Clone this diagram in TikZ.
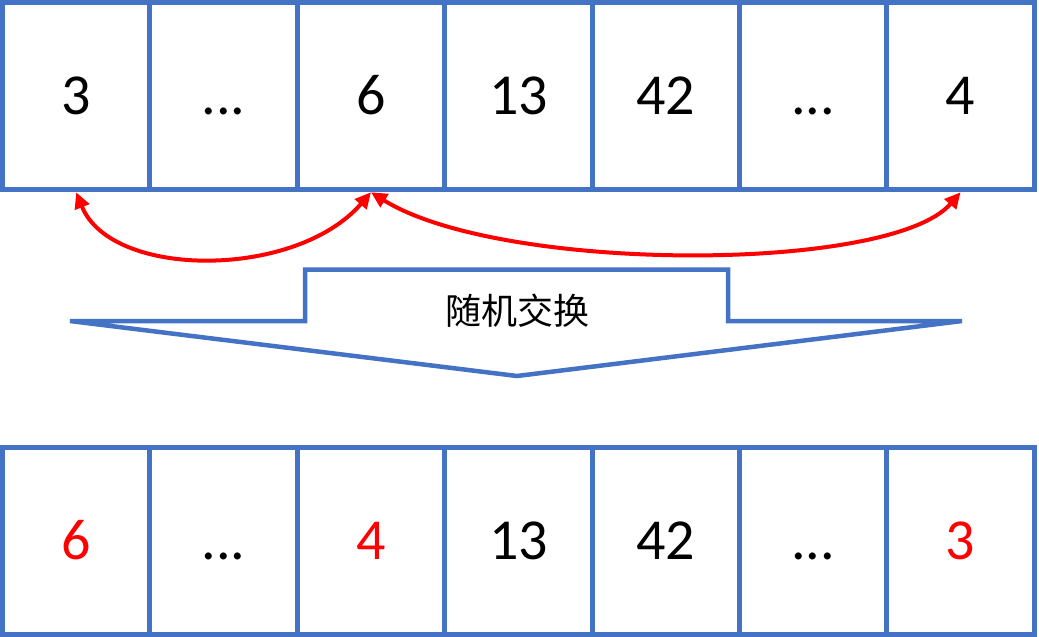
\documentclass[tikz,border=0pt]{standalone}
\usepackage{fontspec}
\setmainfont{Carlito}
\newfontfamily\cjk{Noto Sans CJK SC}
\usepackage{tikz}
\usetikzlibrary{positioning,arrows.meta}
\definecolor{cellblue}{HTML}{4472C4}
\definecolor{swapred}{HTML}{FF0000}

\begin{document}
\begin{tikzpicture}[x=1pt,y=-1pt,
	cell/.style={draw=cellblue, line width=5pt, minimum width=147.4pt, minimum height=187pt, outer sep=0pt, inner sep=0pt, text height=37pt, text depth=0pt, font=\fontsize{58}{60}\selectfont},
	moved/.style={text=swapred},
	swap/.style={draw=swapred, line width=4pt, {Triangle[length=16pt,width=15pt]}-{Triangle[length=16pt,width=15pt]}},
	bigarrow/.style={draw=cellblue, line width=4.5pt, line join=miter}]
\useasboundingbox (0,0) rectangle (1039,637);
\node[cell] (t1) at (76.2,95.75) {3};
\node[cell, right=0pt of t1] (t2) {...};
\node[cell, right=0pt of t2] (t3) {6};
\node[cell, right=0pt of t3] (t4) {13};
\node[cell, right=0pt of t4] (t5) {42};
\node[cell, right=0pt of t5] (t6) {...};
\node[cell, right=0pt of t6] (t7) {4};
\node[cell, moved] (b1) at (76.2,540.5) {6};
\node[cell, right=0pt of b1] (b2) {...};
\node[cell, moved, right=0pt of b2] (b3) {4};
\node[cell, right=0pt of b3] (b4) {13};
\node[cell, right=0pt of b4] (b5) {42};
\node[cell, right=0pt of b5] (b6) {...};
\node[cell, moved, right=0pt of b6] (b7) {3};
% swaps
\draw[swap] ([yshift=-3pt]t1.south) .. controls +(35,87) and +(-75,87) .. ([yshift=-3pt]t3.south);
\draw[swap] ([yshift=-3pt]t3.south) .. controls +(130,81) and +(-70,81) .. ([yshift=-3pt]t7.south);
% arrow
\draw[bigarrow] (70,321) -- (305,321) -- (305,269.5) -- (728,269.5) -- (728,321) -- (962,321) -- (517,376) -- cycle;
\node[font=\cjk\fontsize{36}{40}\selectfont] (lbl) at (517,311) {随机交换};
\end{tikzpicture}
\end{document}
